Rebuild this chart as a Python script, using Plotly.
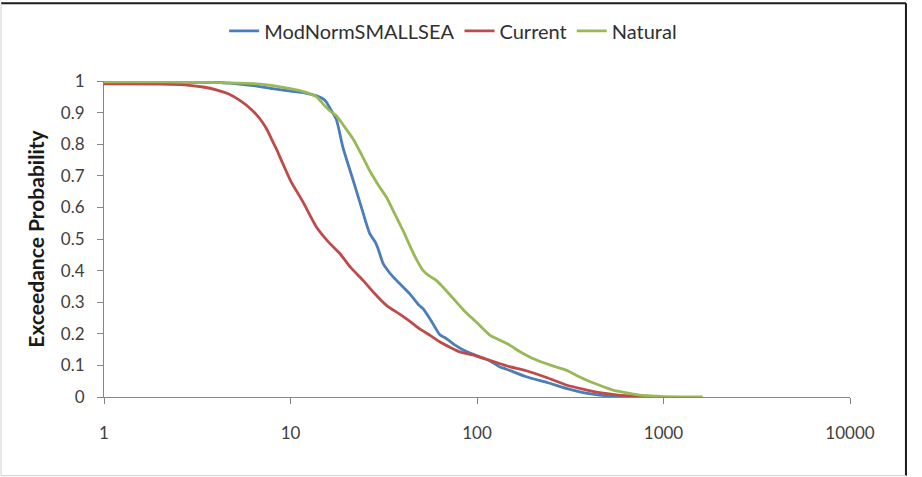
import plotly.graph_objects as go

# ---- data ----
current_x = [1, 2, 2.7, 3.4, 4.0, 4.7, 5.3, 6.0, 6.6, 7.1, 7.5, 7.9, 8.4, 8.95, 10, 11.7, 13.8, 16,
             18.4, 21, 24.5, 28, 32.7, 38.5, 43.5, 50, 56, 63, 72, 80.7, 95, 110, 132, 149, 184,
             240, 301, 370, 454, 560, 684, 807]
current_y = [0.991, 0.990, 0.988, 0.981, 0.972, 0.958, 0.940, 0.916, 0.892, 0.868, 0.845, 0.817,
             0.785, 0.748, 0.685, 0.616, 0.537, 0.49, 0.454, 0.41, 0.369, 0.33, 0.290, 0.262,
             0.240, 0.213, 0.195, 0.175, 0.157, 0.143, 0.133, 0.121, 0.106, 0.096, 0.083, 0.06,
             0.038, 0.025, 0.014, 0.007, 0.003, 0.0]

mod_x = [1, 2, 3, 4.0, 4.1, 4.3, 5, 6.6, 8, 10, 12, 13.8, 14.7, 15.5, 16.2, 17.6, 19.1, 21.7, 24,
         26.6, 28.5, 29.5, 31.4, 33.5, 35.5, 38.5, 43.5, 49, 51.3, 57, 63, 68.5, 76, 85, 100, 117,
         132, 144, 184, 240, 301, 370, 454, 550, 650]
mod_y = [0.997, 0.997, 0.996, 0.996, 1.0, 0.995, 0.992, 0.984, 0.976, 0.968, 0.962, 0.953, 0.946,
         0.935, 0.916, 0.879, 0.790, 0.685, 0.600, 0.517, 0.49, 0.469, 0.422, 0.398, 0.380,
         0.359, 0.327, 0.29, 0.28, 0.24, 0.198, 0.185, 0.165, 0.148, 0.13, 0.115, 0.096, 0.088,
         0.064, 0.045, 0.027, 0.014, 0.006, 0.002, 0.0]

natural_x = [1, 2, 4, 6.6, 10, 12, 13.8, 15, 16.3, 17.6, 19.5, 21.7, 24, 26.6, 29.5, 32.7, 36,
             40.1, 46, 51.3, 55, 60.5, 65.6, 75, 85, 100, 117, 127, 149, 170, 199, 250, 301, 340,
             385, 450, 535, 650, 743, 900, 1030, 1300, 1623]
natural_y = [0.997, 0.997, 0.995, 0.991, 0.976, 0.965, 0.950, 0.926, 0.905, 0.890, 0.855, 0.816,
             0.768, 0.716, 0.672, 0.632, 0.583, 0.527, 0.45, 0.401, 0.385, 0.369, 0.348, 0.310,
             0.274, 0.235, 0.196, 0.185, 0.165, 0.143, 0.122, 0.10, 0.085, 0.069, 0.054, 0.038,
             0.022, 0.012, 0.006, 0.003, 0.001, 0.0005, 0.0]

x_ticks = [1, 10, 100, 1000, 10000]
x_tick_labels = ["1", "10", "100", "1000", "10000"]
y_ticks = [0, 0.1, 0.2, 0.3, 0.4, 0.5, 0.6, 0.7, 0.8, 0.9, 1]
y_tick_labels = ["0", "0.1", "0.2", "0.3", "0.4", "0.5", "0.6", "0.7", "0.8", "0.9", "1"]

FONT = "Lato, 'Open Sans', sans-serif"

fig = go.Figure()
fig.add_trace(go.Scatter(x=mod_x, y=mod_y, mode="lines", name="ModNormSMALLSEA",
                         line=dict(color="#4a7ebb", width=2.8, shape="spline", smoothing=0.6)))
fig.add_trace(go.Scatter(x=current_x, y=current_y, mode="lines", name="Current",
                         line=dict(color="#be4b48", width=2.8, shape="spline", smoothing=0.6)))
fig.add_trace(go.Scatter(x=natural_x, y=natural_y, mode="lines", name="Natural",
                         line=dict(color="#98b954", width=2.8, shape="spline", smoothing=0.6)))

axis_col = "#868686"
fig.update_layout(
    width=922, height=477,
    margin=dict(l=104, r=72, t=80, b=80),
    paper_bgcolor="white", plot_bgcolor="white",
    font=dict(family=FONT, size=17, color="#404040"),
    showlegend=True,
    legend=dict(orientation="h", x=0.468, xanchor="center", y=1.155, yanchor="middle",
                font=dict(size=20, color="#303030"), tracegroupgap=0,
                bgcolor="rgba(0,0,0,0)"),
    xaxis=dict(type="log", range=[0, 4], tickvals=x_ticks, ticktext=x_tick_labels,
               showgrid=False, zeroline=False, showline=True, linecolor=axis_col, linewidth=1,
               ticks="outside", ticklen=6, tickcolor=axis_col, ticklabelstandoff=15),
    yaxis=dict(range=[0, 1], tickvals=y_ticks, ticktext=y_tick_labels,
               showgrid=False, zeroline=False, showline=True, linecolor=axis_col, linewidth=1,
               ticks="outside", ticklen=6, tickcolor=axis_col, ticklabelstandoff=9,
               title=dict(text="<b>Exceedance Probability</b>",
                          font=dict(size=21, color="#1a1a1a"), standoff=10)),
    shapes=[
        dict(type="line", xref="paper", yref="paper", x0=-0.138, x1=1.075, y0=1.246, y1=1.246,
             line=dict(color="#1a1a1a", width=2)),
        dict(type="line", xref="paper", yref="paper", x0=1.075, x1=1.075, y0=1.246, y1=-0.249,
             line=dict(color="#1a1a1a", width=2)),
        dict(type="line", xref="paper", yref="paper", x0=-0.138, x1=-0.138, y0=1.246, y1=-0.249,
             line=dict(color="#d0d0d0", width=1)),
        dict(type="line", xref="paper", yref="paper", x0=-0.138, x1=1.075, y0=-0.249, y1=-0.249,
             line=dict(color="#d0d0d0", width=1)),
    ],
)

fig.write_html("out.html")
